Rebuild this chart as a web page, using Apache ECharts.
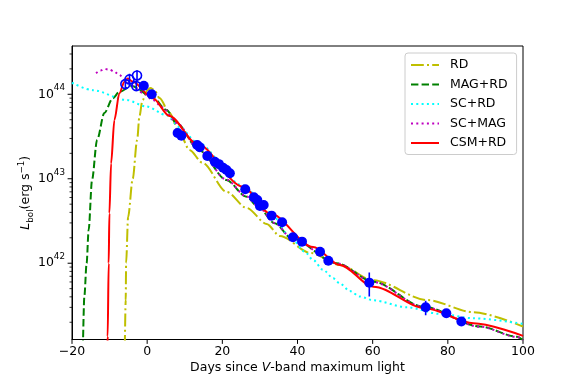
<!DOCTYPE html>
<html><head><meta charset="utf-8">
<script src="https://cdn.jsdelivr.net/npm/echarts@6/dist/echarts.min.js"></script>
<style>html,body{margin:0;padding:0;background:#fff}#c{width:581px;height:388px}</style>
</head><body><div id="c"></div>
<script>
// ---- tick values ----
const xTicks = [-20, 0, 20, 40, 60, 80, 100];
const yMajorTicks = [1e42, 1e43, 1e44];
const yMinorTicks = [2e41,3e41,4e41,5e41,6e41,7e41,8e41,9e41,
                     2e42,3e42,4e42,5e42,6e42,7e42,8e42,9e42,
                     2e43,3e43,4e43,5e43,6e43,7e43,8e43,9e43,
                     2e44,3e44];

// ---- observed bolometric light curve (filled points) ----
const obsDays = [-0.9,1.2,8.1,9.1,13.3,14.0,16.0,18.0,19.1,20.2,21.1,22.0,26.1,28.4,29.3,30.0,31.0,33.1,35.9,38.8,41.2,46.0,48.2,59.1,74.1,79.6,83.6];
const obsLum  = [1.26e44,1.00e44,3.48e43,3.24e43,2.51e43,2.36e43,1.86e43,1.59e43,1.49e43,1.35e43,1.27e43,1.16e43,7.52e42,6.04e42,5.61e42,4.76e42,4.90e42,3.66e42,3.05e42,2.03e42,1.80e42,1.37e42,1.07e42,5.89e41,3.01e41,2.56e41,2.04e41];
const obsErr  = [0.06e44,0.05e44,0.15e43,0.14e43,0.10e43,0.10e43,0.08e43,0.07e43,0.06e43,0.06e43,0.05e43,0.05e43,0.30e42,0.25e42,0.25e42,0.20e42,0.20e42,0.15e42,0.13e42,0.09e42,0.08e42,0.06e42,0.05e42,1.85e41,0.59e41,0.12e41,0.10e41];

// ---- early points (open circles) ----
const earlyDays = [-5.8,-4.7,-2.7,-2.9];
const earlyLum  = [1.32e44,1.50e44,1.67e44,1.25e44];
const earlyErr  = [0.18e44,0.25e44,0.25e44,0.15e44];

// ---- model curves ----
const rdDays = [-5.95,-5.71,-5.6,-5.07,-3.84,-2.67,-2.05,-1.25,0.08,0.88,1.95,3.28,5.95,8.61,11.28,14.75,21.15,26.48,31.81,35.3,43.55,51.28,60.08,74.48,86.75,100];
const rdLum  = [1.0e41,3.66e41,1.01e42,3.53e42,1.0e43,2.88e43,5.5e43,8.51e43,1.12e44,1.19e44,1.12e44,9.04e43,6.01e43,3.48e43,2.19e43,1.54e43,6.98e42,4.51e42,2.92e42,2.10e42,1.32e42,9.55e41,6.31e41,3.67e41,2.63e41,1.78e41];

const magDays = [-17.1,-16.72,-16.11,-15.57,-14.67,-13.33,-11.39,-9.17,-7.39,-4.19,1.41,5.15,7.81,13.95,21.07,26.4,29.49,33.95,38.4,50.4,60.16,73.49,88.61,98.4,100];
const magLum  = [1.0e41,4.03e41,1.0e42,2.48e42,9.68e42,2.88e43,6.01e43,8.97e43,1.07e44,1.25e44,9.29e43,6.52e43,4.57e43,2.14e43,9.68e42,6.14e42,4.68e42,2.97e42,1.98e42,1.0e42,6.05e41,3.06e41,1.78e41,1.35e41,1.23e41];

const scDays = [-20,-14.51,-5.6,-0.27,5.07,8.61,13.07,25.49,32.61,37.95,41.95,44.16,46.83,49.49,51.28,53.9,56.6,60.16,69.07,77.95,86.83,100];
const scLum  = [1.37e44,1.12e44,8.57e43,7.18e43,5.69e43,4.10e43,2.73e43,8.34e42,4.05e42,2.10e42,1.37e42,1.09e42,8.34e41,6.64e41,5.75e41,4.69e41,4.03e41,3.64e41,3.01e41,2.51e41,2.23e41,1.91e41];

const scmDays = [-13.6,-12.45,-11.39,-10.05,-8.72,-7.39,-5.79,-3.92,-1.17,1.49,4.16,7.81,13.95,21.07,26.4,29.49,33.95,38.4,50.4,60.16,73.49,88.61,98.4,100];
const scmLum  = [1.77e44,1.91e44,1.99e44,1.96e44,1.85e44,1.69e44,1.48e44,1.25e44,1.04e44,8.57e43,6.98e43,4.57e43,2.16e43,9.75e42,6.18e42,4.70e42,2.99e42,1.99e42,1.0e42,6.0e41,3.04e41,1.77e41,1.34e41,1.22e41];

const csmDays = [-10.6,-10.51,-10.24,-10.05,-9.6,-8.72,-7.39,-6.05,-5.17,-3.92,1.49,5.95,13.07,25.49,32.61,44.16,51.28,60.16,73.95,86.83,100];
const csmLum  = [1.0e41,1.36e41,1.0e42,3.91e42,1.52e43,4.97e43,1.03e44,1.41e44,1.54e44,1.42e44,8.97e43,5.53e43,2.63e43,8.05e42,3.91e42,1.56e42,9.55e41,5.28e41,2.93e41,1.95e41,1.38e41];

const xMin = -20, xMax = 100, xStep = 20;
const yMin = 1.25e41, yMax = 3.73e44;
const FONT = 'DejaVu Sans';

function pairs(xs, ys) { return xs.map((x, i) => [x, ys[i]]); }
function triples(xs, ys, es) { return xs.map((x, i) => [x, ys[i], es[i]]); }

function curve(name, xs, ys, color, type) {
  return {
    name, type: 'line', data: pairs(xs, ys),
    showSymbol: false, symbol: 'none', smooth: 0.3, smoothMonotone: 'x',
    lineStyle: { color, width: 2, type, cap: 'butt' },
    itemStyle: { color },
    clip: true, z: 2
  };
}

const errRender = (params, api) => {
  const x = api.value(0), y = api.value(1), e = api.value(2);
  const p1 = api.coord([x, y - e]);
  const p2 = api.coord([x, y + e]);
  return { type: 'line', shape: { x1: p1[0], y1: p1[1], x2: p2[0], y2: p2[1] },
           style: { stroke: '#0000ff', lineWidth: 1.6 } };
};

// outward tick marks placed through the axis scales
function yTickSeries(values, len, width) {
  return {
    type: 'custom', silent: true, clip: false, z: 1,
    data: values.map(v => [xMin, v]), encode: { x: 0, y: 1 },
    renderItem: (params, api) => {
      const p = api.coord([api.value(0), api.value(1)]);
      return { type: 'line', shape: { x1: p[0] - len, y1: p[1], x2: p[0], y2: p[1] },
               style: { stroke: '#000', lineWidth: width } };
    }
  };
}
function xTickSeries(values, len, width) {
  return {
    type: 'custom', silent: true, clip: false, z: 1,
    data: values.map(v => [v, yMin]), encode: { x: 0, y: 1 },
    renderItem: (params, api) => {
      const p = api.coord([api.value(0), api.value(1)]);
      return { type: 'line', shape: { x1: p[0], y1: p[1], x2: p[0], y2: p[1] + len },
               style: { stroke: '#000', lineWidth: width } };
    }
  };
}

const chart = echarts.init(document.getElementById('c'), null, { renderer: 'canvas' });
chart.setOption({
  animation: false,
  backgroundColor: '#ffffff',
  textStyle: { fontFamily: FONT },
  grid: { left: 72, right: 58, top: 46, bottom: 48.5, show: true, borderColor: '#000', borderWidth: 1,
          backgroundColor: 'transparent', outerBoundsMode: 'none', containLabel: false },
  legend: {
    orient: 'vertical', left: 405, top: 53,
    data: ['RD', 'MAG+RD', 'SC+RD', 'SC+MAG', 'CSM+RD'],
    itemWidth: 28, itemHeight: 14, itemGap: 6.5,
    padding: [5.5, 9, 5, 5],
    itemStyle: { opacity: 0, color: 'rgba(0,0,0,0)', borderWidth: 0 },
    backgroundColor: 'rgba(255,255,255,0.8)', borderColor: '#cccccc', borderWidth: 1, borderRadius: 3,
    textStyle: { fontFamily: FONT, fontSize: 12.5, color: '#000', padding: [0, 0, 0, 6] },
    selectedMode: false
  },
  xAxis: {
    type: 'value', min: xMin, max: xMax, interval: xStep,
    name: '{n|Days since }{i|V}{n|-band maximum light}',
    nameLocation: 'middle', nameGap: 22, nameMoveOverlap: false,
    nameTextStyle: { rich: {
      n: { fontFamily: FONT, fontSize: 12.5, color: '#000' },
      i: { fontFamily: FONT, fontSize: 12.5, color: '#000', fontStyle: 'italic' } } },
    axisLine: { show: true, onZero: false, lineStyle: { color: '#000', width: 1 } },
    axisTick: { show: false },
    axisLabel: { show: true, margin: 6, color: '#000', fontFamily: FONT, fontSize: 12.5, customValues: xTicks,
                 formatter: v => (v < 0 ? '\u2212' + Math.abs(v) : String(v)) },
    splitLine: { show: false }
  },
  yAxis: {
    type: 'log', logBase: 10, min: yMin, max: yMax, position: 'left',
    name: '{it|L}{sub|bol}{n|(erg s}{sup|\u22121}{n|)}',
    nameLocation: 'middle', nameGap: 37, nameRotate: 90, nameMoveOverlap: false,
    nameTextStyle: { rich: {
      it: { fontFamily: FONT, fontSize: 12.5, color: '#000', fontStyle: 'italic', lineHeight: 18, verticalAlign: 'middle' },
      n: { fontFamily: FONT, fontSize: 12.5, color: '#000', lineHeight: 18, verticalAlign: 'middle' },
      sub: { fontFamily: FONT, fontSize: 8.75, color: '#000', lineHeight: 10, verticalAlign: 'bottom' },
      sup: { fontFamily: FONT, fontSize: 8.75, color: '#000', lineHeight: 10, verticalAlign: 'top' } } },
    axisLine: { show: true, onZero: false, lineStyle: { color: '#000', width: 1 } },
    axisTick: { show: false },
    axisLabel: { show: true, margin: 7, customValues: yMajorTicks,
      formatter: v => '{b|10}{s|' + Math.round(Math.log10(v)) + '}',
      rich: {
        b: { fontFamily: FONT, fontSize: 12.5, color: '#000', lineHeight: 22, verticalAlign: 'middle' },
        s: { fontFamily: FONT, fontSize: 8.75, color: '#000', lineHeight: 10, verticalAlign: 'top' } } },
    splitLine: { show: false }, minorSplitLine: { show: false }
  },
  series: [
    curve('RD', rdDays, rdLum, '#bfbf00', [12.8, 3.2, 2, 3.2]),
    curve('MAG+RD', magDays, magLum, '#008000', [7.4, 3.2]),
    curve('SC+RD', scDays, scLum, '#00ffff', [2, 3.3]),
    curve('SC+MAG', scmDays, scmLum, '#bf00bf', [2, 3.3]),
    curve('CSM+RD', csmDays, csmLum, '#ff0000', 'solid'),
    { type: 'custom', name: 'obsErr', renderItem: errRender, data: triples(obsDays, obsLum, obsErr),
      encode: { x: 0, y: 1 }, z: 5, clip: true },
    { type: 'custom', name: 'earlyErr', renderItem: errRender, data: triples(earlyDays, earlyLum, earlyErr),
      encode: { x: 0, y: 1 }, z: 5, clip: true },
    { type: 'scatter', name: 'obs', data: pairs(obsDays, obsLum), symbol: 'circle', symbolSize: 10,
      itemStyle: { color: '#0000ff', opacity: 1 }, z: 6 },
    { type: 'scatter', name: 'early', data: pairs(earlyDays, earlyLum), symbol: 'circle', symbolSize: 9,
      itemStyle: { color: 'rgba(0,0,0,0)', borderColor: '#0000ff', borderWidth: 1.6, opacity: 1 }, z: 6 },
    yTickSeries(yMajorTicks, 4.4, 1),
    yTickSeries(yMinorTicks, 2.5, 0.8),
    xTickSeries(xTicks, 4.4, 1)
  ]
});
</script></body></html>
